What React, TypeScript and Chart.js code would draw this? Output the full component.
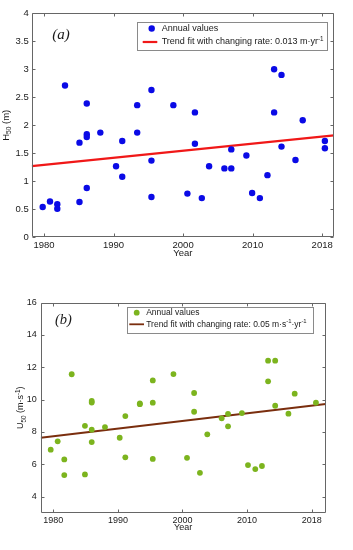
import React, { useEffect, useRef } from 'react';
import { Chart, registerables } from 'chart.js';

Chart.register(...registerables);

// ---------------- Panel (a): H50 ----------------
const hYears = [
  1979.81, 1980.86, 1981.91, 1981.91, 1983.02, 1985.1, 1985.1, 1986.15, 1986.15, 1986.15, 1986.15,
  1988.1, 1990.36, 1991.25, 1991.25, 1993.4, 1993.4, 1995.45, 1995.45, 1995.45, 1998.6, 2000.62,
  2001.7, 2001.7, 2002.69, 2003.74, 2005.94, 2006.93, 2006.93, 2009.1, 2009.93, 2011.04, 2012.13,
  2013.09, 2013.09, 2014.15, 2014.15, 2016.16, 2017.2, 2020.39, 2020.39,
];
const hValues = [
  0.54, 0.64, 0.59, 0.51, 2.71, 1.69, 0.63, 1.84, 2.39, 1.79, 0.88,
  1.87, 1.27, 1.08, 1.72, 2.36, 1.87, 1.37, 0.72, 2.63, 2.36, 0.78,
  1.67, 2.23, 0.7, 1.27, 1.23, 1.57, 1.23, 1.46, 0.79, 0.7, 1.11,
  3.0, 2.23, 1.62, 2.9, 1.38, 2.09, 1.72, 1.59,
];
const hTrendYears = [1978.23, 2021.7];
const hTrendValues = [1.27, 1.82];
const hXTicks = [1980, 1990, 2000, 2010, 2020];
const hXTickLabels = ['1980', '1990', '2000', '2010', '2018'];
const hYTicks = [0, 0.5, 1, 1.5, 2, 2.5, 3, 3.5, 4];

// ---------------- Panel (b): U50 ----------------
const uYears = [
  1979.6, 1980.68, 1981.7, 1981.7, 1982.85, 1984.9, 1984.9, 1985.95, 1985.95, 1985.95, 1985.95,
  1988.0, 1990.28, 1991.15, 1991.15, 1993.4, 1993.4, 1995.4, 1995.4, 1995.4, 1998.6, 2000.7,
  2001.8, 2001.8, 2002.7, 2003.84, 2006.07, 2007.05, 2007.05, 2009.2, 2010.14, 2011.27, 2012.3,
  2013.25, 2013.25, 2014.35, 2014.35, 2016.4, 2017.37, 2020.66,
];
const uValues = [
  6.9, 7.42, 6.3, 5.33, 11.57, 8.38, 5.37, 9.92, 9.82, 8.14, 7.37,
  8.3, 7.64, 8.98, 6.43, 9.77, 9.72, 9.81, 11.19, 6.33, 11.58, 6.4,
  10.41, 9.25, 5.47, 7.85, 8.84, 9.12, 8.35, 9.17, 5.95, 5.7, 5.89,
  12.41, 11.13, 12.41, 9.62, 9.13, 10.37, 9.81,
];
const uTrendYears = [1978.05, 2022.17];
const uTrendValues = [7.64, 9.73];
const uXTicks = [1980, 1990, 2000, 2010, 2020];
const uXTickLabels = ['1980', '1990', '2000', '2010', '2018'];
const uYTicks = [4, 6, 8, 10, 12, 14, 16];

const FONT = '"Liberation Sans", Arial, Helvetica, sans-serif';
const SERIF = '"Liberation Serif", "Times New Roman", serif';

type Seg = { t: string; k: 'n' | 'sup' | 'sub' };
function parseRich(s: string): Seg[] {
  return s
    .split(/(\^\{[^}]*\}|_\{[^}]*\})/)
    .filter((p) => p.length > 0)
    .map((p) =>
      p.startsWith('^{')
        ? { t: p.slice(2, -1), k: 'sup' as const }
        : p.startsWith('_{')
        ? { t: p.slice(2, -1), k: 'sub' as const }
        : { t: p, k: 'n' as const }
    );
}
function segFont(s: Seg, size: number) {
  return `${s.k === 'n' ? size : size * 0.7}px ${FONT}`;
}
function richWidth(ctx: CanvasRenderingContext2D, segs: Seg[], size: number) {
  let w = 0;
  for (const s of segs) {
    ctx.font = segFont(s, size);
    w += ctx.measureText(s.t).width;
  }
  return w;
}
function drawRich(ctx: CanvasRenderingContext2D, segs: Seg[], x: number, y: number, size: number) {
  ctx.textBaseline = 'middle';
  ctx.textAlign = 'left';
  for (const s of segs) {
    ctx.font = segFont(s, size);
    const dy = s.k === 'sup' ? -size * 0.35 : s.k === 'sub' ? size * 0.32 : 0;
    ctx.fillText(s.t, x, y + dy);
    x += ctx.measureText(s.t).width;
  }
  return x;
}

const decorPlugin = {
  id: 'decor',
  afterDraw(chart: any, _args: any, o: any) {
    const { ctx, chartArea: a, scales } = chart;
    const xs = scales.x;
    const ys = scales.y;
    ctx.save();
    // frame + inward ticks
    ctx.strokeStyle = o.axisColor;
    ctx.lineWidth = 1;
    const L = Math.round(a.left) + 0.5;
    const R = Math.round(a.right) - 0.5;
    const T = Math.round(a.top) + 0.5;
    const B = Math.round(a.bottom) - 0.5;
    ctx.beginPath();
    ctx.rect(L, T, R - L, B - T);
    const tl = o.tickLen;
    for (const t of xs.ticks) {
      const px = Math.round(xs.getPixelForValue(t.value)) + 0.5;
      ctx.moveTo(px, B);
      ctx.lineTo(px, B - tl);
      ctx.moveTo(px, T);
      ctx.lineTo(px, T + tl);
    }
    for (const t of ys.ticks) {
      const py = Math.round(ys.getPixelForValue(t.value)) + 0.5;
      ctx.moveTo(L, py);
      ctx.lineTo(L + tl, py);
      ctx.moveTo(R, py);
      ctx.lineTo(R - tl, py);
    }
    ctx.stroke();

    // panel label
    ctx.fillStyle = o.textColor;
    ctx.font = `italic ${o.panelFont}px ${SERIF}`;
    ctx.textBaseline = 'alphabetic';
    ctx.textAlign = 'left';
    ctx.fillText(o.panelLabel, o.panelX, o.panelY);

    // x title
    ctx.font = `${o.fontSize}px ${FONT}`;
    ctx.textAlign = 'center';
    ctx.textBaseline = 'middle';
    ctx.fillText(o.xTitle, (a.left + a.right) / 2, o.xTitleY);

    // y title (rotated)
    const ysegs = parseRich(o.yTitle);
    const yw = richWidth(ctx, ysegs, o.fontSize);
    ctx.save();
    ctx.translate(o.yTitleX, (a.top + a.bottom) / 2);
    ctx.rotate(-Math.PI / 2);
    drawRich(ctx, ysegs, -yw / 2, 0, o.fontSize);
    ctx.restore();

    // legend
    const lg = o.legend;
    const items = chart.data.datasets.map((d: any) => ({
      segs: parseRich(d.label),
      line: !!d.showLine,
      color: d.showLine ? d.borderColor : d.backgroundColor,
      r: d.pointRadius,
      bw: d.borderWidth,
    }));
    const textW = Math.max(...items.map((i: any) => richWidth(ctx, i.segs, lg.fontSize)));
    const bx = lg.x;
    const by = lg.y;
    const bw = lg.textOffset + textW + lg.padRight;
    const bh = lg.height;
    ctx.fillStyle = '#ffffff';
    ctx.fillRect(bx, by, bw, bh);
    ctx.strokeStyle = lg.border;
    ctx.lineWidth = 1;
    ctx.strokeRect(Math.round(bx) + 0.5, Math.round(by) + 0.5, Math.round(bw), Math.round(bh));
    items.forEach((it: any, i: number) => {
      const cy = by + lg.firstRow + i * lg.rowGap;
      if (it.line) {
        ctx.strokeStyle = it.color;
        ctx.lineWidth = it.bw;
        ctx.beginPath();
        ctx.moveTo(bx + lg.lineStart, cy);
        ctx.lineTo(bx + lg.lineEnd, cy);
        ctx.stroke();
      } else {
        ctx.fillStyle = it.color;
        ctx.beginPath();
        ctx.arc(bx + lg.markerX, cy, it.r, 0, Math.PI * 2);
        ctx.fill();
      }
      ctx.fillStyle = o.textColor;
      drawRich(ctx, it.segs, bx + lg.textOffset, cy, lg.fontSize);
    });
    ctx.restore();
  },
};

type Spec = {
  years: number[];
  values: number[];
  trendYears: number[];
  trendValues: number[];
  xTicks: number[];
  xTickLabels: string[];
  yTicks: number[];
  xMin: number;
  xMax: number;
  yMin: number;
  yMax: number;
  pointLabel: string;
  trendLabel: string;
  pointColor: string;
  lineColor: string;
  pointRadius: number;
  lineWidth: number;
  top: number;
  right: number;
  yAxisWidth: number;
  xAxisHeight: number;
  fontSize: number;
  yTickPad: number;
  xTickPad: number;
  decor: any;
};

function makeConfig(s: Spec): any {
  const tickFont = { size: s.fontSize, family: FONT };
  return {
    type: 'scatter',
    data: {
      datasets: [
        {
          label: s.pointLabel,
          data: s.years.map((x, i) => ({ x, y: s.values[i] })),
          backgroundColor: s.pointColor,
          borderWidth: 0,
          pointRadius: s.pointRadius,
          showLine: false,
        },
        {
          label: s.trendLabel,
          data: s.trendYears.map((x, i) => ({ x, y: s.trendValues[i] })),
          borderColor: s.lineColor,
          backgroundColor: s.lineColor,
          borderWidth: s.lineWidth,
          pointRadius: 0,
          showLine: true,
          fill: false,
        },
      ],
    },
    options: {
      animation: false,
      responsive: false,
      maintainAspectRatio: false,
      events: [],
      layout: { padding: { top: s.top, right: s.right, left: 0, bottom: 0 } },
      plugins: {
        legend: { display: false },
        tooltip: { enabled: false },
        decor: s.decor,
      },
      scales: {
        x: {
          type: 'linear',
          min: s.xMin,
          max: s.xMax,
          grid: { display: false, drawTicks: false },
          border: { display: false },
          ticks: {
            padding: s.xTickPad,
            font: tickFont,
            color: '#1a1a1a',
            maxRotation: 0,
            autoSkip: false,
            callback: (v: number) => {
              const i = s.xTicks.indexOf(v);
              return i >= 0 ? s.xTickLabels[i] : '';
            },
          },
          afterBuildTicks: (sc: any) => {
            sc.ticks = s.xTicks.map((v) => ({ value: v }));
          },
          afterFit: (sc: any) => {
            sc.height = s.xAxisHeight;
          },
        },
        y: {
          type: 'linear',
          min: s.yMin,
          max: s.yMax,
          grid: { display: false, drawTicks: false },
          border: { display: false },
          ticks: {
            padding: s.yTickPad,
            font: tickFont,
            color: '#1a1a1a',
            autoSkip: false,
            callback: (v: number) => String(v),
          },
          afterBuildTicks: (sc: any) => {
            sc.ticks = s.yTicks.map((v) => ({ value: v }));
          },
          afterFit: (sc: any) => {
            sc.width = s.yAxisWidth;
          },
        },
      },
    },
    plugins: [decorPlugin],
  };
}

const specA: Spec = {
  years: hYears,
  values: hValues,
  trendYears: hTrendYears,
  trendValues: hTrendValues,
  xTicks: hXTicks,
  xTickLabels: hXTickLabels,
  yTicks: hYTicks,
  xMin: 1978.23,
  xMax: 2021.7,
  yMin: 0,
  yMax: 4,
  pointLabel: 'Annual values',
  trendLabel: 'Trend fit with changing rate: 0.013 m·yr^{-1}',
  pointColor: '#0a0ae6',
  lineColor: '#f01818',
  pointRadius: 3.2,
  lineWidth: 2.2,
  top: 13.3,
  right: 19,
  yAxisWidth: 31.7,
  xAxisHeight: 275 - 237.3,
  fontSize: 9.5,
  yTickPad: 3,
  xTickPad: 2,
  decor: {
    axisColor: '#666666',
    textColor: '#1a1a1a',
    tickLen: 3,
    panelLabel: '(a)',
    panelFont: 15,
    panelX: 52.3,
    panelY: 38.5,
    fontSize: 9.5,
    xTitle: 'Year',
    xTitleY: 253,
    yTitle: 'H_{50} (m)',
    yTitleX: 6.5,
    legend: {
      x: 137.3,
      y: 21.7,
      height: 27.6,
      firstRow: 6.8,
      rowGap: 13.5,
      lineStart: 5.4,
      lineEnd: 20,
      markerX: 14.4,
      textOffset: 24.4,
      padRight: 4,
      fontSize: 9,
      border: '#8a8a8a',
    },
  },
};

const specB: Spec = {
  years: uYears,
  values: uValues,
  trendYears: uTrendYears,
  trendValues: uTrendValues,
  xTicks: uXTicks,
  xTickLabels: uXTickLabels,
  yTicks: uYTicks,
  xMin: 1978.05,
  xMax: 2022.17,
  yMin: 3,
  yMax: 16,
  pointLabel: 'Annual values',
  trendLabel: 'Trend fit with changing rate: 0.05 m·s^{-1}·yr^{-1}',
  pointColor: '#7cb41e',
  lineColor: '#7a2e0e',
  pointRadius: 2.9,
  lineWidth: 1.8,
  top: 27.7,
  right: 27.3,
  yAxisWidth: 40.7,
  xAxisHeight: 275 - 237.7,
  fontSize: 9,
  yTickPad: 4,
  xTickPad: 2,
  decor: {
    axisColor: '#666666',
    textColor: '#1a1a1a',
    tickLen: 3,
    panelLabel: '(b)',
    panelFont: 14.5,
    panelX: 55,
    panelY: 48.7,
    fontSize: 9,
    xTitle: 'Year',
    xTitleY: 253,
    yTitle: 'U_{50} (m·s^{-1})',
    yTitleX: 21,
    legend: {
      x: 126.7,
      y: 31.7,
      height: 26,
      firstRow: 6,
      rowGap: 11.6,
      lineStart: 2.6,
      lineEnd: 17.3,
      markerX: 10,
      textOffset: 19.5,
      padRight: 6,
      fontSize: 8.5,
      border: '#8a8a8a',
    },
  },
};

export default function App() {
  const refA = useRef<HTMLCanvasElement | null>(null);
  const refB = useRef<HTMLCanvasElement | null>(null);

  useEffect(() => {
    const charts: Chart[] = [];
    if (refA.current) charts.push(new Chart(refA.current, makeConfig(specA)));
    if (refB.current) charts.push(new Chart(refB.current, makeConfig(specB)));
    return () => charts.forEach((c) => c.destroy());
  }, []);

  return (
    <div style={{ position: 'absolute', left: 0, top: 0, width: 353, height: 550, background: '#ffffff' }}>
      <canvas
        ref={refA}
        width={353}
        height={275}
        style={{ position: 'absolute', left: 0, top: 0, width: 353, height: 275 }}
      />
      <canvas
        ref={refB}
        width={353}
        height={275}
        style={{ position: 'absolute', left: 0, top: 275, width: 353, height: 275 }}
      />
    </div>
  );
}
